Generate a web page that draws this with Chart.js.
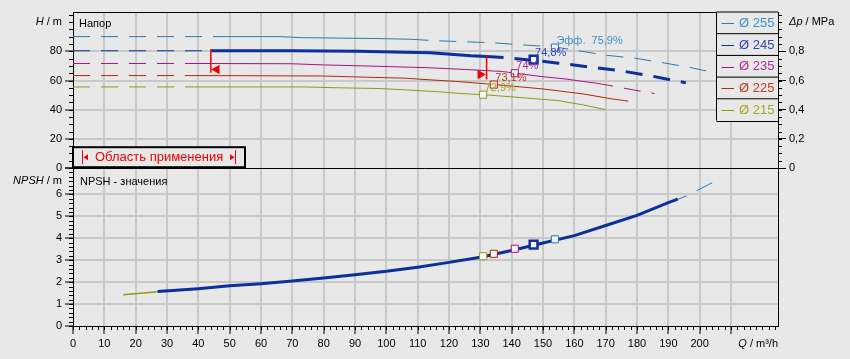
<!DOCTYPE html>
<html>
<head>
<meta charset="utf-8">
<script src="https://cdn.jsdelivr.net/npm/chart.js@4/dist/chart.umd.min.js"></script>
<style>
  html, body { margin: 0; padding: 0; background: #e8e8e8; }
  canvas { display: block; }
</style>
</head>
<body>
<canvas id="pumpChart" width="850" height="359"></canvas>
<script>
// impeller diameters (legend)
const diameters = ['Ø 255', 'Ø 245', 'Ø 235', 'Ø 225', 'Ø 215'];

// H(Q) curves, Q in m³/h, H in m
const q255 = [0, 44, 46, 66, 73, 97, 108, 114.5, 123.4, 133.2, 142.5, 153.8, 160.6, 169.9, 179.3, 188.3, 197.3, 204];
const h255 = [90.1, 90.1, 90.1, 90.1, 89.4, 88.8, 88.3, 87.4, 86.7, 86.0, 84.6, 83.0, 80.7, 77.4, 75.3, 72.2, 68.8, 65.7];
const q245 = [0, 44, 70, 91, 114, 127, 132, 139, 149, 155, 166, 175, 184.4, 193, 195.6];
const h245 = [80.4, 80.4, 80.4, 80.0, 79.0, 77.0, 76.5, 75.5, 73.4, 71.9, 69.0, 66.6, 63.2, 59.5, 58.5];
const q235 = [0, 37, 70, 80, 95, 113, 125, 137, 143, 150, 157, 163, 167, 173, 182.7, 185.6];
const h235 = [71.7, 71.7, 71.5, 70.7, 69.9, 68.8, 67.6, 66.2, 64.5, 62.6, 61.1, 59.3, 58.2, 55.9, 52.0, 51.1];
const q225 = [0, 37, 55, 80, 93, 106, 113, 122, 128, 134.3, 142, 150, 162.8, 172, 177.2];
const h225 = [63.4, 63.4, 63.3, 63.1, 62.3, 61.6, 60.6, 59.4, 58.4, 57.3, 55.8, 54.2, 50.8, 47.4, 45.9];
const q215 = [0, 37, 74, 85, 98, 106, 116, 124.5, 131, 140, 155, 163, 170];
const h215 = [55.6, 55.6, 55.6, 55.0, 54.5, 53.6, 52.4, 51.0, 50.3, 48.8, 46.2, 43.2, 40.0];

// solid part of each curve (outside of it the curve is dashed)
const solidFrom = [46, 44, 37, 37, 37];
const solidTo = [108, 132, 167, 177, 170];

// NPSH curve
const npshQ = [27, 40, 50, 60, 70, 80, 90, 100, 110, 120, 130, 140, 150, 160, 170, 180, 190, 193];
const npshV = [1.57, 1.70, 1.83, 1.93, 2.05, 2.19, 2.34, 2.49, 2.68, 2.90, 3.13, 3.44, 3.78, 4.12, 4.58, 5.04, 5.62, 5.78];
const npshStartQ = [16, 27];
const npshStartV = [1.42, 1.56];
const npshEndQ = [193, 195.8, 197.4, 199, 204];
const npshEndV = [5.77, 5.93, null, 6.16, 6.53];

// best efficiency points
const effQ = [153.8, 147, 141, 134.3, 130.9];
const effH = [82.6, 74.3, 65.0, 57.2, 50.3];
const effNpsh = [3.95, 3.71, 3.52, 3.29, 3.18];
const effLabels = ['Эфф.  75,9%', '74,8%', '74%', '73,1%', '72,9%'];

// application range limits on the selected curve
const limitQ = [44, 132];
const limitTop = [81.4, 77.5];
const limitBottom = [65.3, 60.8];
const arrowQ = [45.9, 130.0];
const arrowH = [67.6, 64.1];

const lineColors = ['#2a78b0', '#0b2f9c', '#a3127e', '#ad2a06', '#8c9c12'];
const textColors = ['#3d8fcc', '#3344c4', '#b22b95', '#bd3d1a', '#a6a81c'];
const FONT = "'Liberation Sans', Arial, sans-serif";
const BG = '#e8e8e8';
const GRID = '#c8c8c8';
const RED = '#f20000';
const NONE = 'rgba(0,0,0,0)';

Chart.defaults.font.family = FONT;
Chart.defaults.font.size = 11;
Chart.defaults.color = '#000';

function pts(qs, vs) {
  return qs.map((q, i) => ({ x: q, y: vs[i] }));
}

const headQ = [q255, q245, q235, q225, q215];
const headH = [h255, h245, h235, h225, h215];

const datasets = [];

// markers on top
datasets.push({
  data: pts(effQ, effH), yAxisID: 'yH', showLine: false, order: 0,
  pointStyle: 'rect', pointRadius: [5, 5.5, 5, 5, 5], pointBorderWidth: [1, 2.5, 1, 1, 1],
  pointBorderColor: lineColors, pointBackgroundColor: ['#f2f2f2', '#ffffff', '#f2f2f2', '#f2f2f2', '#ffffff']
});
datasets.push({
  data: pts(effQ, effNpsh), yAxisID: 'yN', showLine: false, order: 0,
  pointStyle: 'rect', pointRadius: [5, 5.5, 5, 5, 5], pointBorderWidth: [1, 2.5, 1, 1, 1],
  pointBorderColor: lineColors, pointBackgroundColor: ['#f2f2f2', '#ffffff', '#f2f2f2', '#f2f2f2', '#ffffff']
});
limitQ.forEach((q, i) => {
  datasets.push({
    data: [{ x: q, y: limitTop[i] }, { x: q, y: limitBottom[i] }], yAxisID: 'yH', order: 0,
    borderColor: RED, borderWidth: 1.5, pointRadius: 0
  });
});
datasets.push({
  data: pts(arrowQ, arrowH), yAxisID: 'yH', showLine: false, order: 0,
  pointStyle: 'triangle', rotation: [-90, 90], pointRadius: 5.5, pointBorderWidth: 0,
  pointBackgroundColor: RED, pointBorderColor: RED
});

headQ.forEach((qs, i) => {
  const thick = i === 1 ? 3 : 1;
  datasets.push({
    data: pts(qs, headH[i]), yAxisID: 'yH', order: i === 1 ? 1 : 2,
    borderColor: lineColors[i], borderWidth: thick, pointRadius: 0,
    segment: {
      borderDash: c => (c.p0.parsed.x >= solidFrom[i] - 0.01 && c.p1.parsed.x <= solidTo[i] + 0.01) ? [] : [17, 11],
      borderWidth: c => (c.p1.parsed.x <= solidFrom[i] + 0.01 ? 1 : thick)
    }
  });
});

datasets.push({
  data: pts(npshQ, npshV), yAxisID: 'yN', order: 1,
  borderColor: lineColors[1], borderWidth: 3, pointRadius: 0
});
datasets.push({
  data: pts(npshStartQ, npshStartV), yAxisID: 'yN', order: 2,
  borderColor: lineColors[4], borderWidth: 1.5, pointRadius: 0
});
datasets.push({
  data: pts(npshEndQ, npshEndV), yAxisID: 'yN', order: 2, spanGaps: false,
  borderColor: lineColors[0], borderWidth: 1, pointRadius: 0
});

// minor tick steps per scale
const minorSteps = { x: 2, yH: 5, yN: 0.2, yP: 0.05 };

function mixedText(c, parts, x, y, align) {
  let w = 0;
  parts.forEach(p => {
    c.font = (p[1] ? 'italic ' : '') + '11px ' + FONT;
    w += c.measureText(p[0]).width;
  });
  let cx = align === 'right' ? x - w : x;
  c.textAlign = 'left';
  parts.forEach(p => {
    c.font = (p[1] ? 'italic ' : '') + '11px ' + FONT;
    c.fillText(p[0], cx, y);
    cx += c.measureText(p[0]).width;
  });
}

const decor = {
  id: 'decor',
  beforeDraw(chart) {
    const c = chart.ctx;
    c.save();
    c.fillStyle = BG;
    c.fillRect(0, 0, chart.width, chart.height);
    c.restore();
  },
  afterDraw(chart) {
    const c = chart.ctx, a = chart.chartArea, s = chart.scales;
    const split = Math.round(s.yH.bottom) + 0.5;
    const top = Math.round(a.top) + 0.5;
    c.save();
    c.strokeStyle = '#000';
    c.lineWidth = 1;
    c.beginPath();
    c.moveTo(a.left, top); c.lineTo(a.right, top);
    c.moveTo(a.left, split); c.lineTo(a.right, split);
    c.stroke();

    // minor ticks
    c.beginPath();
    for (const id in minorSteps) {
      const sc = s[id], step = minorSteps[id];
      for (let n = 0; n * step <= sc.max + 1e-9; n++) {
        const p = Math.round(sc.getPixelForValue(n * step)) + 0.5;
        if (id === 'x') { c.moveTo(p, sc.top); c.lineTo(p, sc.top + 4); }
        else if (id === 'yP') { c.moveTo(sc.left, p); c.lineTo(sc.left + 4, p); }
        else { c.moveTo(sc.right - 4, p); c.lineTo(sc.right, p); }
      }
    }
    c.stroke();

    // axis titles
    c.fillStyle = '#000';
    c.textBaseline = 'middle';
    mixedText(c, [['H', true], [' / m', false]], s.yH.right - 11, s.yH.getPixelForValue(100), 'right');
    mixedText(c, [['NPSH', true], [' / m', false]], s.yN.right - 11, s.yN.getPixelForValue(6.6), 'right');
    mixedText(c, [['Δp', true], [' / MPa', false]], s.yP.left + 11, s.yP.getPixelForValue(1.0), 'left');
    mixedText(c, [['Q', true], [' / m³/h', false]], a.right, s.x.bottom - 15, 'right');

    // plot titles
    c.font = '11px ' + FONT;
    c.textAlign = 'left';
    c.fillText('Напор', a.left + 6, a.top + 12);
    c.fillText('NPSH - значения', a.left + 7, split + 13);

    // efficiency labels
    effQ.forEach((q, i) => {
      c.fillStyle = textColors[i];
      c.fillText(effLabels[i], s.x.getPixelForValue(q) + 1.5, s.yH.getPixelForValue(effH[i]) - 7);
    });

    // diameter legend
    const lx = Math.round(a.right) - 62 + 0.5;
    const rowH = 21.7;
    c.font = '13px ' + FONT;
    diameters.forEach((d, i) => {
      const y0 = a.top + i * rowH;
      c.fillStyle = BG;
      c.fillRect(lx, y0, a.right - lx, rowH);
      c.strokeStyle = '#000';
      c.lineWidth = 1;
      c.beginPath();
      c.moveTo(lx, y0); c.lineTo(a.right, y0);
      c.moveTo(lx, y0); c.lineTo(lx, y0 + rowH);
      c.moveTo(lx, Math.round(y0 + rowH) + 0.5); c.lineTo(a.right, Math.round(y0 + rowH) + 0.5);
      c.stroke();
      const ym = y0 + rowH / 2 + 0.5;
      c.strokeStyle = lineColors[i];
      c.beginPath();
      c.moveTo(lx + 5, Math.round(ym) + 0.5); c.lineTo(lx + 17.5, Math.round(ym) + 0.5);
      c.stroke();
      c.fillStyle = textColors[i];
      c.fillText(d, lx + 22.5, ym);
    });

    // application range box
    const bx0 = a.left, bx1 = 245, by0 = split - 21.3, by1 = split - 1.3;
    c.fillStyle = BG;
    c.fillRect(bx0, by0, bx1 - bx0, by1 - by0);
    c.strokeStyle = '#000';
    c.lineWidth = 2;
    c.strokeRect(bx0, by0, bx1 - bx0, by1 - by0);
    const my = (by0 + by1) / 2;
    c.strokeStyle = RED;
    c.fillStyle = RED;
    c.lineWidth = 1;
    c.beginPath();
    c.moveTo(82.5, my - 7); c.lineTo(82.5, my + 7);
    c.moveTo(235.5, my - 7); c.lineTo(235.5, my + 7);
    c.stroke();
    c.beginPath();
    c.moveTo(83.5, my); c.lineTo(88, my - 3); c.lineTo(88, my + 3); c.closePath();
    c.moveTo(234.5, my); c.lineTo(230, my - 3); c.lineTo(230, my + 3); c.closePath();
    c.fill();
    c.font = '13px ' + FONT;
    c.fillText('Область применения', 95, my + 0.5);
    c.restore();
  }
};

const tickFont = { size: 11, family: FONT };

new Chart(document.getElementById('pumpChart'), {
  type: 'line',
  data: { datasets: datasets },
  options: {
    responsive: false,
    devicePixelRatio: 1,
    animation: false,
    layout: { padding: { top: 12, left: 0, right: 0, bottom: 0 } },
    plugins: { legend: { display: false }, tooltip: { enabled: false } },
    scales: {
      x: {
        type: 'linear', position: 'bottom', min: 0, max: 225,
        afterFit: sc => { sc.height = 33; },
        ticks: {
          stepSize: 10, autoSkip: false, maxRotation: 0, padding: 3, color: '#000', font: tickFont,
          callback: v => (v <= 200 ? String(v) : '')
        },
        grid: {
          lineWidth: 2, tickLength: 8, tickWidth: 1,
          color: c => (c.tick && c.tick.value > 0 && c.tick.value <= 220 ? GRID : NONE),
          tickColor: c => (c.tick && c.tick.value <= 220 ? '#000' : NONE)
        },
        border: { color: '#000', width: 1 }
      },
      yH: {
        type: 'linear', position: 'left', stack: 'left', stackWeight: 156, weight: 1,
        min: 0, max: 107,
        afterFit: sc => { sc.width = 73; },
        ticks: {
          stepSize: 20, autoSkip: false, padding: 3, color: '#000', font: tickFont,
          callback: v => (v <= 80 ? String(v) : '')
        },
        grid: {
          lineWidth: 2, tickLength: 8, tickWidth: 1,
          color: c => (c.tick && c.tick.value > 0 && c.tick.value <= 100 ? GRID : NONE),
          tickColor: c => (c.tick && c.tick.value <= 100 ? '#000' : NONE)
        },
        border: { color: '#000', width: 1 }
      },
      yN: {
        type: 'linear', position: 'left', stack: 'left', stackWeight: 158, weight: 0,
        min: 0, max: 7.2,
        afterFit: sc => { sc.width = 73; },
        ticks: {
          stepSize: 1, autoSkip: false, padding: 3, color: '#000', font: tickFont,
          callback: v => (v <= 6 ? String(v) : '')
        },
        grid: {
          lineWidth: 2, tickLength: 8, tickWidth: 1,
          color: c => (c.tick && c.tick.value > 0 && c.tick.value <= 7 ? GRID : NONE),
          tickColor: '#000'
        },
        border: { color: '#000', width: 1 }
      },
      yP: {
        type: 'linear', position: 'right', stack: 'right', stackWeight: 156,
        min: 0, max: 1.07,
        afterFit: sc => { sc.width = 72; },
        ticks: {
          stepSize: 0.2, autoSkip: false, padding: 3, color: '#000', font: tickFont,
          callback: v => {
            const r = Math.round(v * 10) / 10;
            return r <= 0.8 ? String(r).replace('.', ',') : '';
          }
        },
        grid: {
          drawOnChartArea: false, tickLength: 8, tickWidth: 1,
          tickColor: c => (c.tick && c.tick.value <= 1.0001 ? '#000' : NONE)
        },
        border: { color: '#000', width: 1 }
      },
      yPd: {
        type: 'linear', position: 'right', stack: 'right', stackWeight: 158,
        min: 0, max: 1,
        afterFit: sc => { sc.width = 72; },
        ticks: { display: false },
        grid: { drawOnChartArea: false, drawTicks: false },
        border: { color: '#000', width: 1 }
      }
    }
  },
  plugins: [decor]
});
</script>
</body>
</html>
